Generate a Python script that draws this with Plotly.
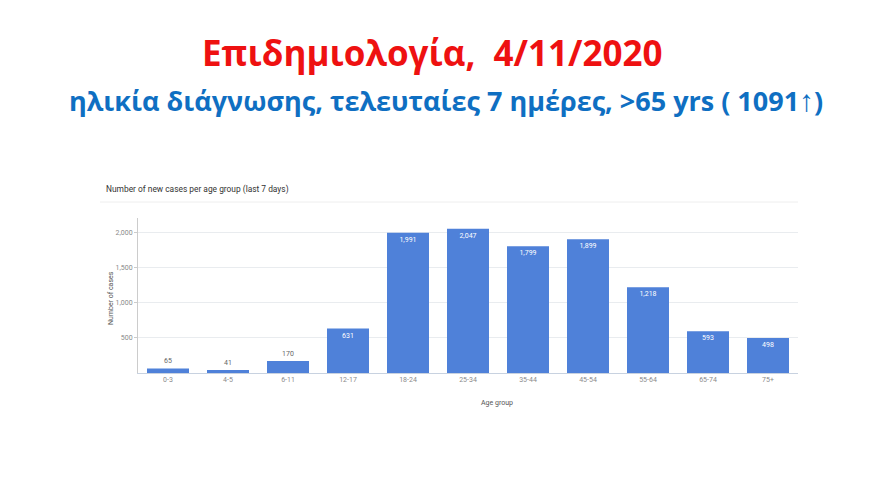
import plotly.graph_objects as go

categories = ["0-3", "4-5", "6-11", "12-17", "18-24", "25-34", "35-44", "45-54", "55-64", "65-74", "75+"]
cases = [65, 41, 170, 631, 1991, 2047, 1799, 1899, 1218, 593, 498]
y_ticks = [500, 1000, 1500, 2000]
y_tick_labels = ["500", "1,000", "1,500", "2,000"]

W, H = 880, 495
OFF = 8  # page body margin compensation
x0, x1 = 138 - OFF, 798 - OFF
y_top, y_bot = 218 - OFF, 373 - OFF


def px(x):
    return (x - OFF) / W


def py(y):
    return (H - (y - OFF)) / H


labels = [f"{v:,}" for v in cases]
positions = ["outside" if v < 300 else "inside" for v in cases]
text_colors = ["#666666" if v < 300 else "#ffffff" for v in cases]

fig = go.Figure(go.Bar(
    x=categories, y=cases,
    marker=dict(color="#4f81d9", line=dict(width=0)),
    text=labels, textposition=positions, insidetextanchor="end",
    textfont=dict(family="Roboto", size=7, color=text_colors),
    cliponaxis=False,
))

fig.update_layout(
    width=W, height=H,
    margin=dict(l=0, r=0, t=0, b=0),
    paper_bgcolor="white", plot_bgcolor="white",
    showlegend=False, bargap=0.3,
    font=dict(family="Roboto", color="#888888", size=7),
    xaxis=dict(domain=[x0 / W, x1 / W], showgrid=False, showline=True,
               linecolor="#c8d2e0", linewidth=1, ticks="",
               tickfont=dict(size=7, color="#8a8a8a")),
    yaxis=dict(domain=[(H - y_bot) / H, (H - y_top) / H], range=[0, 2200],
               tickvals=y_ticks, ticktext=y_tick_labels,
               showgrid=True, gridcolor="#e9ecef", gridwidth=1,
               showline=True, linecolor="#cccccc", linewidth=1,
               ticks="outside", ticklen=3, tickcolor="#cccccc",
               zeroline=False, tickfont=dict(size=7, color="#8a8a8a")),
    shapes=[dict(type="line", xref="paper", yref="paper",
                 x0=px(100), x1=x1 / W, y0=py(202), y1=py(202),
                 line=dict(color="#eeeeee", width=1))],
    annotations=[
        dict(text="<b>Επιδημιολογία,  4/11/2020</b>", x=px(432), y=py(52),
             xref="paper", yref="paper", showarrow=False, xanchor="center", yanchor="middle",
             font=dict(family="Open Sans", size=35, color="#ee1111")),
        dict(text="<b>ηλικία διάγνωσης, τελευταίες 7 ημέρες, >65 yrs ( 1091</b>"
                  "<span style=\"font-size:30px\">↑</span><b>)</b>", x=px(446), y=py(100),
             xref="paper", yref="paper", showarrow=False, xanchor="center", yanchor="middle",
             font=dict(family="Open Sans", size=27, color="#0f6fc2")),
        dict(text="Number of new cases per age group (last 7 days)", x=px(104), y=py(189),
             xref="paper", yref="paper", showarrow=False, xanchor="left", yanchor="middle",
             font=dict(family="Roboto", size=8.4, color="#333333")),
        dict(text="Number of cases", x=px(111), y=py(298), textangle=-90,
             xref="paper", yref="paper", showarrow=False, xanchor="center", yanchor="middle",
             font=dict(family="Roboto", size=7, color="#555555")),
        dict(text="Age group", x=px(497), y=py(403),
             xref="paper", yref="paper", showarrow=False, xanchor="center", yanchor="middle",
             font=dict(family="Roboto", size=7, color="#555555")),
    ],
)

fig.write_html("out.html")
